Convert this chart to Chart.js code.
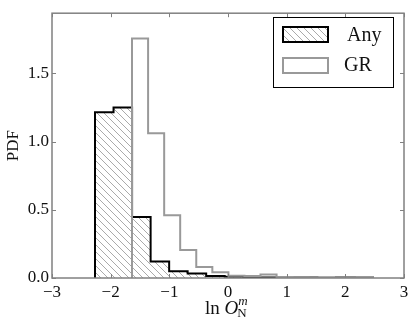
<!DOCTYPE html>
<html>
<head>
<meta charset="utf-8">
<script src="https://cdn.jsdelivr.net/npm/chart.js@4"></script>
<style>
  html, body { margin: 0; padding: 0; background: #fff; }
  #wrap { width: 415px; height: 327px; }
</style>
</head>
<body>
<div id="wrap"><canvas id="myChart" width="415" height="327"></canvas></div>
<script>
// bin edges and heights
const anyEdges = [-2.267, -1.951, -1.635, -1.319, -1.003, -0.688, -0.372, -0.056, 0.26, 0.576, 0.892, 1.208, 1.524, 1.84, 2.156, 2.472];
const anyPdf = [1.215, 1.25, 0.447, 0.121, 0.05, 0.033, 0.014, 0.009, 0.004, 0.004, 0.003, 0.003, 0.002, 0.003, 0.003];
const grEdges = [-1.636, -1.362, -1.088, -0.815, -0.541, -0.267, 0.007, 0.281, 0.554, 0.828, 1.102, 1.376, 1.65, 1.923, 2.197, 2.471];
const grPdf = [1.755, 1.06, 0.459, 0.205, 0.08, 0.043, 0.016, 0.014, 0.026, 0.007, 0.006, 0.004, 0.004, 0.003, 0.007];
const xTicks = [-3, -2, -1, 0, 1, 2, 3];
const yTicks = [0, 0.5, 1, 1.5];
const seriesNames = ["Any", "GR"];

const serif = "'Liberation Serif', 'DejaVu Serif', serif";
const frameColor = "#808080";

function stepPoints(edges, vals) {
  const pts = [{ x: edges[0], y: 0 }];
  vals.forEach((v, i) => {
    pts.push({ x: edges[i], y: v });
    pts.push({ x: edges[i + 1], y: v });
  });
  pts.push({ x: edges[edges.length - 1], y: 0 });
  return pts;
}

// diagonal hatch drawn straight into the clipped region
function hatchRegion(ctx, x0, y0, x1, y1) {
  ctx.strokeStyle = "#aaa";
  ctx.lineWidth = 1;
  ctx.beginPath();
  const h = y1 - y0;
  for (let x = x0 - h; x < x1; x += 7) {
    ctx.moveTo(x, y0);
    ctx.lineTo(x + h, y1);
  }
  ctx.stroke();
}

// hatched area under the "Any" histogram, through the chart scales
const hatchArea = {
  id: "hatchArea",
  beforeDatasetsDraw(chart) {
    const { ctx, chartArea: a, scales } = chart;
    const pts = stepPoints(anyEdges, anyPdf);
    ctx.save();
    ctx.beginPath();
    pts.forEach((p, i) => {
      const x = scales.x.getPixelForValue(p.x);
      const y = scales.y.getPixelForValue(p.y);
      if (i === 0) ctx.moveTo(x, y); else ctx.lineTo(x, y);
    });
    ctx.closePath();
    ctx.clip();
    hatchRegion(ctx, a.left, a.top, a.right, a.bottom);
    ctx.restore();
  }
};

const decor = {
  id: "decor",
  afterDraw(chart) {
    const { ctx, chartArea: a, scales } = chart;
    ctx.save();
    // frame + inward ticks on all sides
    ctx.strokeStyle = frameColor;
    ctx.lineWidth = 1.5;
    ctx.strokeRect(a.left, a.top, a.right - a.left, a.bottom - a.top);
    ctx.lineWidth = 1;
    ctx.beginPath();
    xTicks.forEach(t => {
      const x = Math.round(scales.x.getPixelForValue(t)) + 0.5;
      ctx.moveTo(x, a.bottom); ctx.lineTo(x, a.bottom - 4);
      ctx.moveTo(x, a.top); ctx.lineTo(x, a.top + 4);
    });
    yTicks.forEach(t => {
      const y = Math.round(scales.y.getPixelForValue(t)) + 0.5;
      ctx.moveTo(a.left, y); ctx.lineTo(a.left + 4, y);
      ctx.moveTo(a.right, y); ctx.lineTo(a.right - 4, y);
    });
    ctx.stroke();

    // y label
    ctx.fillStyle = "#111";
    ctx.font = "17px " + serif;
    ctx.textAlign = "center";
    ctx.textBaseline = "middle";
    ctx.save();
    ctx.translate(14, (a.top + a.bottom) / 2);
    ctx.rotate(-Math.PI / 2);
    ctx.fillText("PDF", 0, 0);
    ctx.restore();

    // x label: ln O_N^m
    ctx.textAlign = "left";
    ctx.textBaseline = "alphabetic";
    const base = 314;
    let x = 205;
    ctx.font = "19px " + serif;
    ctx.fillText("ln", x, base);
    x += ctx.measureText("ln ").width;
    ctx.font = "italic 19px " + serif;
    ctx.fillText("O", x, base);
    x += ctx.measureText("O").width;
    ctx.font = "italic 13px " + serif;
    ctx.fillText("m", x, base - 9);
    ctx.font = "13px " + serif;
    ctx.fillText("N", x - 1, base + 3);

    // legend
    const lx = 273, ly = 17, lw = 120, lh = 70;
    ctx.fillStyle = "#fff";
    ctx.fillRect(lx, ly, lw, lh);
    ctx.strokeStyle = "#000";
    ctx.lineWidth = 1;
    ctx.strokeRect(lx + 0.5, ly + 0.5, lw, lh);
    ctx.save();
    ctx.beginPath();
    ctx.rect(283, 27, 45, 15);
    ctx.clip();
    hatchRegion(ctx, 283, 27, 328, 42);
    ctx.restore();
    ctx.strokeStyle = "#000";
    ctx.lineWidth = 2;
    ctx.strokeRect(283, 27, 45, 15);
    ctx.strokeStyle = "#999";
    ctx.strokeRect(283, 58, 45, 15);
    ctx.fillStyle = "#111";
    ctx.font = "20px " + serif;
    ctx.textBaseline = "middle";
    ctx.fillText(seriesNames[0], 347, 36);
    ctx.fillText(seriesNames[1], 344, 66);
    ctx.restore();
  }
};

new Chart(document.getElementById("myChart"), {
  type: "scatter",
  data: {
    datasets: [
      {
        label: seriesNames[1],
        data: stepPoints(grEdges, grPdf),
        showLine: true,
        borderColor: "#999",
        borderWidth: 2,
        pointRadius: 0,
        fill: false,
      },
      {
        label: seriesNames[0],
        data: stepPoints(anyEdges, anyPdf),
        showLine: true,
        borderColor: "#000",
        borderWidth: 2,
        pointRadius: 0,
        fill: false,
      },
    ],
  },
  options: {
    responsive: false,
    animation: false,
    layout: { padding: { top: 5, right: 11, left: 0, bottom: 0 } },
    plugins: { legend: { display: false }, tooltip: { enabled: false } },
    scales: {
      x: {
        min: -3,
        max: 3,
        afterFit: s => { s.height = 49; },
        grid: { display: false, drawTicks: false },
        border: { display: false },
        afterBuildTicks: s => { s.ticks = xTicks.map(v => ({ value: v })); },
        ticks: {
          padding: 4,
          color: "#111",
          font: { family: serif, size: 17 },
          callback: v => String(v).replace("-", "\u2212"),
        },
      },
      y: {
        min: 0,
        max: 1.94,
        afterFit: s => { s.width = 52; },
        grid: { display: false, drawTicks: false },
        border: { display: false },
        afterBuildTicks: s => { s.ticks = yTicks.map(v => ({ value: v })); },
        ticks: {
          padding: 3,
          color: "#111",
          font: { family: serif, size: 17 },
          callback: v => v.toFixed(1),
        },
      },
    },
  },
  plugins: [hatchArea, decor],
});
</script>
</body>
</html>
